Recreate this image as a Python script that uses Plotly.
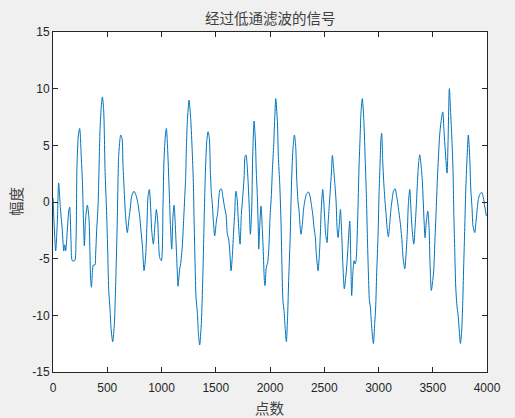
import plotly.graph_objects as go

# Sample index (点数) and amplitude (幅度)
sample_idx = [0, 25, 40, 52, 68, 86, 99, 108, 117, 145, 154, 166, 178, 200, 212, 221, 234, 246, 261, 271,
              280, 289, 301, 317, 332, 341, 347, 354, 363, 372, 387, 393, 403, 415, 421, 434, 446, 455, 467, 480,
              492, 504, 513, 526, 535, 550, 566, 575, 584, 593, 605, 618, 624, 636, 645, 658, 670, 685, 701, 713,
              725, 747, 768, 784, 799, 811, 824, 839, 854, 867, 876, 888, 900, 910, 925, 940, 953, 965, 974, 983,
              999, 1014, 1023, 1036, 1045, 1060, 1069, 1082, 1094, 1106, 1116, 1131, 1140, 1149, 1152, 1168, 1177, 1192, 1205, 1214,
              1223, 1229, 1238, 1254, 1269, 1284, 1294, 1300, 1309, 1318, 1331, 1340, 1352, 1367, 1377, 1386, 1395, 1404, 1417, 1429,
              1441, 1450, 1460, 1469, 1478, 1490, 1506, 1518, 1530, 1539, 1552, 1567, 1582, 1595, 1607, 1619, 1629, 1641, 1653, 1665,
              1675, 1681, 1687, 1699, 1708, 1724, 1736, 1748, 1761, 1770, 1779, 1791, 1801, 1810, 1819, 1831, 1840, 1853, 1865, 1874,
              1884, 1893, 1896, 1905, 1917, 1930, 1939, 1948, 1954, 1966, 1979, 1991, 2000, 2013, 2022, 2034, 2043, 2053, 2068, 2077,
              2090, 2102, 2111, 2120, 2129, 2139, 2151, 2163, 2172, 2185, 2194, 2203, 2212, 2225, 2237, 2246, 2258, 2268, 2277, 2286,
              2298, 2311, 2323, 2335, 2354, 2369, 2381, 2394, 2406, 2418, 2427, 2443, 2455, 2464, 2473, 2486, 2495, 2504, 2513, 2526,
              2535, 2547, 2556, 2566, 2575, 2584, 2596, 2609, 2618, 2627, 2639, 2649, 2661, 2670, 2685, 2698, 2710, 2722, 2735, 2744,
              2753, 2765, 2775, 2784, 2793, 2802, 2811, 2821, 2830, 2839, 2851, 2864, 2876, 2888, 2897, 2907, 2916, 2925, 2937, 2953,
              2965, 2974, 2983, 2996, 3005, 3014, 3023, 3029, 3039, 3048, 3060, 3070, 3079, 3091, 3103, 3116, 3128, 3137, 3153, 3165,
              3177, 3189, 3202, 3214, 3226, 3242, 3254, 3266, 3275, 3288, 3300, 3309, 3325, 3337, 3349, 3361, 3371, 3380, 3392, 3404,
              3411, 3420, 3429, 3441, 3454, 3466, 3475, 3487, 3500, 3509, 3521, 3530, 3543, 3552, 3564, 3576, 3592, 3604, 3616, 3632,
              3641, 3653, 3666, 3678, 3687, 3693, 3702, 3712, 3724, 3733, 3742, 3755, 3767, 3776, 3785, 3795, 3804, 3816, 3828, 3841,
              3850, 3862, 3871, 3887, 3899, 3911, 3920, 3933, 3951, 3967, 3976, 3994]

amplitude = [0.37, -4.31, -1.68, 1.68, -0.51, -2.55, -4.31, -3.78, -4.31, -0.8, -0.45, -3.43, -5.18, -5.18, -3.43, 3.14, 5.91, 6.49, 3.87, 1.82,
             -1.39, -3.87, -1.39, -0.28, -1.53, -4.6, -6.93, -7.52, -6.2, -5.56, -5.56, -4.6, -2.41, -0.36, 1.68, 6.49, 8.54, 9.27, 8.10, 2.70,
             -0.36, -4.16, -7.66, -9.56, -11.16, -12.33, -10.72, -8.1, -5.03, -1.39, 4.02, 5.62, 5.91, 5.62, 3.28, 0.66, -1.39, -2.7, -1.39, -0.51,
             0.51, 0.95, 0.51, -0.22, -1.24, -2.55, -3.87, -6.06, -4.74, -1.68, 0.51, 1.1, -0.51, -2.55, -3.72, -1.97, -0.66, -1.68, -3.72, -4.89,
             -5.18, -0.22, 3.72, 5.91, 6.49, 3.87, 1.53, -1.97, -4.16, -1.24, -0.28, -2.85, -4.89, -6.93, -7.43, -5.91, -5.42, -3.87, -1.39, 0.37,
             2.26, 4.74, 7.08, 8.98, 7.37, 4.31, 1.53, -1.39, -5.33, -8.39, -9.85, -11.6, -12.62, -10.72, -7.95, -4.6, -0.8, 2.41, 5.33, 6.2,
             5.62, 2.85, 0.66, -0.22, -1.68, -2.99, -1.68, -0.95, 0.51, 1.1, 1.15, 0.37, -0.51, -1.09, -2.85, -3.28, -4.31, -6.06, -4.74, -2.55,
             -0.95, 0.51, 0.95, 0.07, -1.68, -3.72, -1.09, 0.37, 2.12, 4.02, 4.16, 2.99, 1.24, -0.8, -2.85, -0.8, 3.87, 7.14, 5.47, 2.56,
             0.37, -2.85, -4.16, -2.26, -0.36, -2.55, -4.6, -6.93, -7.37, -5.76, -5.33, -3.72, -1.39, 0.66, 2.85, 5.04, 7.22, 9.12, 7.08, 4.02,
             1.53, -1.97, -6.06, -8.83, -9.56, -11.02, -12.33, -9.85, -6.93, -3.43, 0.07, 2.99, 4.74, 5.91, 4.89, 2.12, 0.07, -0.8, -2.12, -2.85,
             -1.97, -0.51, 0.22, 0.66, 0.89, 0.51, -0.22, -1.09, -2.26, -3.14, -4.6, -6.06, -4.6, -2.85, -0.51, 1.1, 0.07, -1.39, -2.85, -3.58,
             -1.97, -0.22, 1.1, 2.56, 4.1, 3.28, 1.82, 0.07, -2.26, -3.14, -1.97, -0.66, -2.85, -5.18, -7.66, -6.64, -5.33, -3.43, -1.68, -4.89,
             -8.25, -6.06, -5.18, -5.47, -5.18, -3.43, -0.51, 3.28, 5.62, 7.95, 9.12, 7.37, 4.16, 0.66, -2.85, -6.35, -8.68, -9.27, -11.02, -12.48,
             -10.72, -9.27, -6.35, -2.85, 0.66, 3.28, 5.62, 6.06, 3.58, 1.82, 0.07, -1.09, -2.26, -3.07, -1.97, -0.51, 0.37, 0.95, 1.18, 0.66,
             -0.07, -0.95, -1.97, -3.14, -4.89, -5.91, -4.6, -2.55, -0.22, 1.1, -0.8, -2.26, -3.72, -2.26, -0.22, 2.12, 3.58, 4.16, 3.28, 1.82,
             0.37, -1.68, -3.14, -1.68, -0.8, -2.26, -5.47, -7.81, -6.93, -6.06, -3.14, -1.09, 2.12, 3.87, 5.91, 7.08, 7.95, 6.2, 4.45, 2.55,
             5.33, 10.0, 7.66, 5.18, 2.7, -0.51, -4.02, -7.52, -9.27, -9.85, -11.02, -12.48, -11.31, -8.98, -5.76, -2.26, 0.95, 3.87, 5.91, 3.87,
             1.24, -0.51, -2.12, -2.7, -1.68, -0.51, 0.22, 0.66, 0.86, 0.37, -0.22, -1.24]

x_ticks = [0, 500, 1000, 1500, 2000, 2500, 3000, 3500, 4000]
y_ticks = [-15, -10, -5, 0, 5, 10, 15]

title_text = "经过低通滤波的信号"
x_label = "点数"
y_label = "幅度"

axis_col = "#262626"
text_col = "#404040"
cjk = "Noto Sans CJK SC"
num_font = dict(family="Liberation Sans, Arial, sans-serif", size=12, color=axis_col)

fig = go.Figure()
fig.add_trace(go.Scatter(
    x=sample_idx, y=amplitude, mode="lines",
    line=dict(color="#0072BD", width=1, shape="spline", smoothing=0.7),
    showlegend=False, hoverinfo="skip"))

axis_common = dict(showgrid=False, zeroline=False, showline=True, linecolor=axis_col,
                   linewidth=1, mirror="ticks", ticks="inside", ticklen=5, tickwidth=1,
                   tickcolor=axis_col, tickfont=num_font)

fig.update_layout(
    width=515, height=418,
    margin=dict(l=53, r=28, t=32, b=46),
    paper_bgcolor="#f0f0f0", plot_bgcolor="#ffffff",
    xaxis=dict(range=[0, 4000], tickvals=x_ticks, ticktext=[str(v) for v in x_ticks],
               ticklabelstandoff=5, **axis_common),
    yaxis=dict(range=[-15, 15], tickvals=y_ticks, ticktext=[str(v) for v in y_ticks], **axis_common),
    annotations=[
        dict(text=title_text, xref="paper", yref="paper", x=0.5, y=1, yanchor="middle",
             yshift=15, showarrow=False, font=dict(family=cjk, size=14.5, color=text_col)),
        dict(text=x_label, xref="paper", yref="paper", x=0.5, y=0, yanchor="middle",
             yshift=-35, showarrow=False, font=dict(family=cjk, size=14.5, color=text_col)),
        dict(text=y_label, xref="paper", yref="paper", x=0, y=0.5, xanchor="center",
             xshift=-38, textangle=-90, showarrow=False, font=dict(family=cjk, size=14.5, color=text_col)),
    ],
)

fig.write_html("out.html", config={"displayModeBar": False, "staticPlot": True},
               post_script="document.body.style.margin='0';document.body.style.overflow='hidden';")
